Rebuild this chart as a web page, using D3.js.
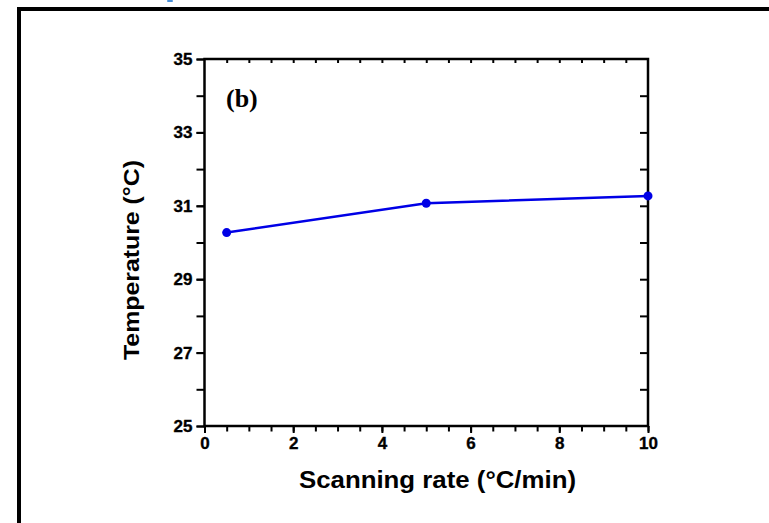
<!DOCTYPE html>
<html>
<head>
<meta charset="utf-8">
<script src="https://cdn.jsdelivr.net/npm/d3@7"></script>
<style>
  html, body { margin: 0; padding: 0; background: #fff; }
  svg { display: block; }
</style>
</head>
<body>
<svg id="chart" width="769" height="523"></svg>
<script>
// ---- data ----
const rates = [0.5, 5, 10];                 // scanning rate (°C/min)
const temps = [30.27, 31.07, 31.27];        // temperature (°C)
const xTickValues = [0, 2, 4, 6, 8, 10];
const yTickValues = [25, 27, 29, 31, 33, 35];
const xTitle = "Scanning rate (°C/min)";
const yTitle = "Temperature (°C)";
const panelLabel = "(b)";

// ---- layout ----
const svg = d3.select("#chart");
const W = 769, H = 523;
const plot = { left: 204.5, right: 648, top: 59, bottom: 426 };
const x = d3.scaleLinear().domain([0, 10]).range([plot.left, plot.right]);
const y = d3.scaleLinear().domain([25, 35]).range([plot.bottom, plot.top]);
const sans = "'Liberation Sans', Arial, sans-serif";

svg.append("rect").attr("width", W).attr("height", H).attr("fill", "#fff");

// outer frame (left and top edges visible)
svg.append("rect").attr("x", 17).attr("y", 7).attr("width", 4).attr("height", H - 7).attr("fill", "#000");
svg.append("rect").attr("x", 17).attr("y", 7).attr("width", W - 17).attr("height", 4).attr("fill", "#000");
// small cropped blue fragment at the top edge
svg.append("rect").attr("x", 167).attr("y", 0).attr("width", 6).attr("height", 2).attr("rx", 1).attr("fill", "#4a90d9");

// ---- axes ----
const axisStyle = g => {
  g.select(".domain").remove();
  g.selectAll("line").attr("stroke", "#000").attr("stroke-width", 2);
  g.selectAll("text")
    .style("font-family", sans).style("font-weight", "bold")
    .style("font-size", "17px").style("fill", "#000")
    .style("stroke", "#000").style("stroke-width", "0.35px");
};

// bottom: minor ticks every 0.5
svg.append("g").attr("transform", `translate(0,${plot.bottom})`)
  .call(d3.axisBottom(x).tickValues(d3.range(0, 10.01, 0.5)).tickSize(5.5).tickFormat(""))
  .call(axisStyle);
svg.append("g").attr("transform", `translate(0,${plot.bottom})`)
  .call(d3.axisBottom(x).tickValues(xTickValues).tickSize(7).tickPadding(4).tickFormat(d3.format("d")))
  .call(axisStyle);

// left: ticks every 1 unit, labels at odd values
svg.append("g").attr("transform", `translate(${plot.left},0)`)
  .call(d3.axisLeft(y).tickValues(d3.range(25, 35.01, 1)).tickSize(8).tickFormat(""))
  .call(axisStyle);
svg.append("g").attr("transform", `translate(${plot.left},0)`)
  .call(d3.axisLeft(y).tickValues(yTickValues).tickSize(8).tickPadding(4).tickFormat(d3.format("d")))
  .call(axisStyle);

// top: inward ticks every 0.5
svg.append("g").attr("transform", `translate(0,${plot.top})`)
  .call(d3.axisBottom(x).tickValues(d3.range(0.5, 10, 0.5)).tickSize(4).tickFormat(""))
  .call(axisStyle);

// right: inward ticks every 1
svg.append("g").attr("transform", `translate(${plot.right},0)`)
  .call(d3.axisLeft(y).tickValues(d3.range(26, 35, 1)).tickSize(8).tickFormat(""))
  .call(axisStyle);

// frame of plot area
svg.append("rect")
  .attr("x", plot.left).attr("y", plot.top)
  .attr("width", plot.right - plot.left).attr("height", plot.bottom - plot.top)
  .attr("fill", "none").attr("stroke", "#000").attr("stroke-width", 2.5);

// ---- data line ----
const pts = rates.map((r, i) => [r, temps[i]]);
svg.append("path")
  .datum(pts)
  .attr("fill", "none")
  .attr("stroke", "#0000e6")
  .attr("stroke-width", 2.5)
  .attr("d", d3.line().x(d => x(d[0])).y(d => y(d[1])));
svg.selectAll("circle.pt").data(pts).join("circle")
  .attr("class", "pt")
  .attr("cx", d => x(d[0])).attr("cy", d => y(d[1]))
  .attr("r", 4.5).attr("fill", "#0000e6");

// ---- titles ----
svg.append("text")
  .attr("x", 437.5).attr("y", 488)
  .attr("text-anchor", "middle")
  .attr("font-family", sans).attr("font-weight", "bold").attr("font-size", 23)
  .attr("textLength", 277).attr("lengthAdjust", "spacingAndGlyphs")
  .text(xTitle);

svg.append("text")
  .attr("transform", "translate(139,260) rotate(-90)")
  .attr("text-anchor", "middle")
  .attr("font-family", sans).attr("font-weight", "bold").attr("font-size", 22)
  .attr("textLength", 200).attr("lengthAdjust", "spacingAndGlyphs")
  .text(yTitle);

svg.append("text")
  .attr("x", 226).attr("y", 107)
  .attr("font-family", "'Liberation Serif', 'Times New Roman', serif")
  .attr("font-weight", "bold").attr("font-size", 26)
  .text(panelLabel);
</script>
</body>
</html>
